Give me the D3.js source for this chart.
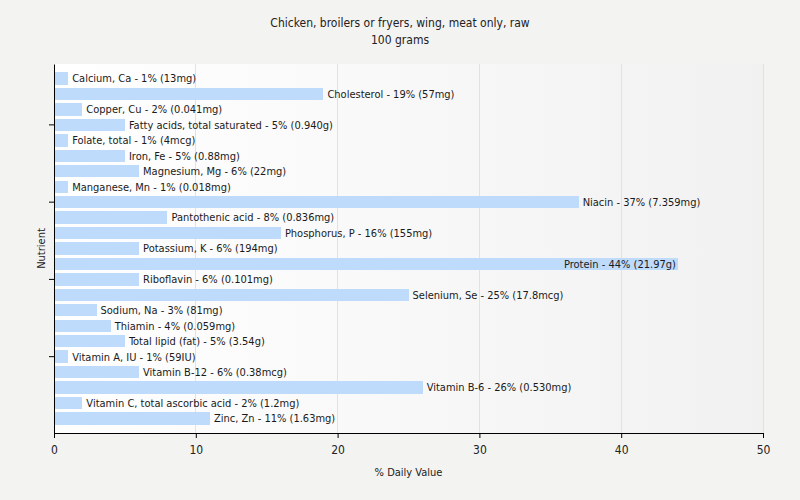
<!DOCTYPE html>
<html><head><meta charset="utf-8">
<script src="https://cdn.jsdelivr.net/npm/d3@7"></script>
<style>body{margin:0;background:#f3f3f2;} text{font-family:Tahoma,"DejaVu Sans Condensed","Liberation Sans",sans-serif;}</style>
</head><body>
<svg id="c" width="800" height="500"></svg>
<script>
const title = ["Chicken, broilers or fryers, wing, meat only, raw", "100 grams"];
const nutrients = ["Calcium, Ca","Cholesterol","Copper, Cu","Fatty acids, total saturated","Folate, total","Iron, Fe","Magnesium, Mg","Manganese, Mn","Niacin","Pantothenic acid","Phosphorus, P","Potassium, K","Protein","Riboflavin","Selenium, Se","Sodium, Na","Thiamin","Total lipid (fat)","Vitamin A, IU","Vitamin B-12","Vitamin B-6","Vitamin C, total ascorbic acid","Zinc, Zn"];
const dv = [1,19,2,5,1,5,6,1,37,8,16,6,44,6,25,3,4,5,1,6,26,2,11];
const amounts = ["13mg","57mg","0.041mg","0.940g","4mcg","0.88mg","22mg","0.018mg","7.359mg","0.836mg","155mg","194mg","21.97g","0.101mg","17.8mcg","81mg","0.059mg","3.54g","59IU","0.38mcg","0.530mg","1.2mg","1.63mg"];
const xTicks = [0,10,20,30,40,50];
const yTickIdx = [3,8,13,18];

const svg = d3.select("#c");
const m = {l:54, r:763, t:64, b:433};
const x = d3.scaleLinear().domain([0,50]).range([m.l, m.r]);
const y = d3.scaleBand().domain(nutrients).range([m.t, m.b]).paddingInner(0.2).paddingOuter(0.54);

const defs = svg.append("defs");
const g = defs.append("linearGradient").attr("id","bg").attr("x1","0").attr("x2","1").attr("y1","0").attr("y2","0");
g.append("stop").attr("offset","0").attr("stop-color","#ffffff");
g.append("stop").attr("offset","1").attr("stop-color","#f1f1f1");
svg.append("rect").attr("x",m.l).attr("y",m.t).attr("width",m.r-m.l).attr("height",m.b-m.t).attr("fill","url(#bg)");

svg.selectAll(".grid").data(xTicks.slice(1)).enter().append("line")
  .attr("x1",d=>x(d)).attr("x2",d=>x(d)).attr("y1",m.t).attr("y2",m.b)
  .attr("stroke","#e2e2e2").attr("stroke-width",1).attr("shape-rendering","crispEdges");

svg.selectAll(".bar").data(nutrients).enter().append("rect")
  .attr("x",x(0)).attr("y",d=>y(d)).attr("width",(d,i)=>x(dv[i])-x(0)).attr("height",y.bandwidth())
  .attr("fill","#bfdbfb").attr("shape-rendering","crispEdges");

svg.selectAll(".lbl").data(nutrients).enter().append("text")
  .text((d,i)=>`${d} - ${dv[i]}% (${amounts[i]})`)
  .attr("y",d=>y(d)+y.bandwidth()/2).attr("dy","0.35em")
  .attr("font-size","11px").attr("fill","#1a1a1a")
  .each(function(d,i){
    const t = d3.select(this);
    const w = this.getComputedTextLength();
    const end = x(dv[i]);
    if (end + 4 + w > m.r) { t.attr("x", end-2).attr("text-anchor","end"); }
    else { t.attr("x", end+4); }
  });

const xa = svg.append("g").attr("transform",`translate(0,${m.b})`)
  .call(d3.axisBottom(x).tickValues(xTicks).tickSize(5).tickSizeOuter(0));
xa.selectAll("text").attr("font-size","12px").attr("fill","#222").attr("dy","1.05em");
xa.select(".domain").attr("stroke","#000");
xa.selectAll(".tick line").attr("stroke","#000");

const ya = svg.append("g").attr("transform",`translate(${m.l},0)`)
  .call(d3.axisLeft(y).tickValues(yTickIdx.map(i=>nutrients[i])).tickSize(5).tickSizeOuter(0).tickFormat(""));
ya.select(".domain").attr("stroke","#000");
ya.selectAll(".tick line").attr("stroke","#000");

svg.append("text").attr("x",400).attr("y",27).attr("text-anchor","middle").attr("font-size","12px").attr("fill","#222").text(title[0]);
svg.append("text").attr("x",400).attr("y",44).attr("text-anchor","middle").attr("font-size","12px").attr("fill","#222").text(title[1]);
svg.append("text").attr("x",(m.l+m.r)/2).attr("y",476).attr("text-anchor","middle").attr("font-size","11px").attr("fill","#222").text("% Daily Value");
svg.append("text").attr("transform",`translate(45,${(m.t+m.b)/2}) rotate(-90)`).attr("text-anchor","middle").attr("font-size","11px").attr("fill","#222").text("Nutrient");
</script>
</body></html>
